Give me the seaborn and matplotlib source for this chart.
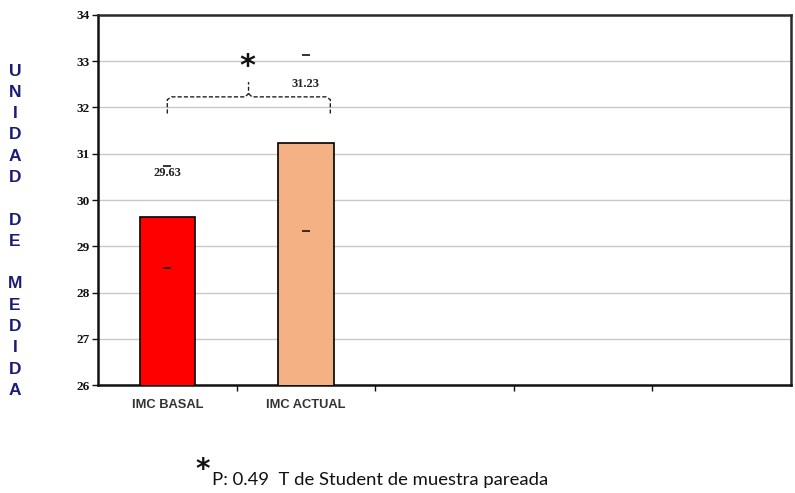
import matplotlib
matplotlib.use("Agg")
import matplotlib.pyplot as plt
import seaborn as sns
import numpy as np
import pandas as pd
from matplotlib.ticker import FixedLocator

# --- data ---
categories = ["IMC BASAL", "IMC ACTUAL", " ", "  ", "   "]
means = [29.63, 31.23]
sds = [1.10, 1.90]
bar_colors = ["#FF0000", "#F4B183"]
value_labels = ["29.63", "31.23"]
label_offsets = [0.95, 1.28]
y_ticks = [26, 27, 28, 29, 30, 31, 32, 33, 34]
axis_letters = "UNIDAD DE MEDIDA"
footnote = "P: 0.49  T de Student de muestra pareada"

sns.set_theme(style="white")
plt.rcParams["font.family"] = ["DejaVu Sans"]

fig = plt.figure(figsize=(7.95, 4.93), dpi=100)
ax = fig.add_axes([0.1233, 0.219, 0.8717, 0.7506])

df = pd.DataFrame({"grupo": categories[:2], "valor": means})
sns.barplot(data=df, x="grupo", y="valor", hue="grupo", palette=bar_colors,
            order=categories, width=0.4, edgecolor="black", linewidth=1.2,
            saturation=1, legend=False, ax=ax, zorder=3)

# error caps only (no stems)
xs = np.arange(len(means))
ax.errorbar(xs, means, yerr=sds, fmt="none", ecolor="#222222",
            elinewidth=0, capsize=3, capthick=1.3, zorder=4)

ax.set_xlim(-0.5, len(categories) - 0.5)
ax.set_ylim(y_ticks[0], y_ticks[-1])
ax.set_yticks(y_ticks)
ax.yaxis.grid(True, color="#c8c8c8", linewidth=1, zorder=0)
ax.set_axisbelow(True)
ax.set_xlabel("")
ax.set_ylabel("")

for sp in ax.spines.values():
    sp.set_visible(True)
    sp.set_color("#111111")
    sp.set_linewidth(1.8)
ax.spines["top"].set_color("#2a2a2a")
ax.spines["right"].set_color("#2a2a2a")

ax.tick_params(axis="y", which="major", direction="out", length=4, width=1,
               color="#111111", left=True, pad=2)
ax.tick_params(axis="x", which="major", length=0, pad=10)
ax.xaxis.set_minor_locator(FixedLocator(np.arange(0.5, len(categories) - 0.5, 1)))
ax.tick_params(axis="x", which="minor", direction="out", length=4, width=1,
               color="#111111", bottom=True)

for lab in ax.get_yticklabels():
    lab.set_fontfamily("Liberation Serif")
    lab.set_fontweight("bold")
    lab.set_fontsize(9.5)
    lab.set_color("#111111")
for lab in ax.get_xticklabels():
    lab.set_fontfamily("Liberation Sans")
    lab.set_fontweight("bold")
    lab.set_fontsize(9.3)
    lab.set_color("#333333")

# value labels above bars
for x, m, txt, off in zip(xs, means, value_labels, label_offsets):
    ax.text(x, m + off, txt, ha="center", va="center", fontsize=9,
            fontfamily="Liberation Serif", fontweight="bold", color="#222222",
            zorder=5)

# significance bracket
left, right, mid = 0.0, 1.176, 0.586
y0, y1, yp = 31.87, 32.23, 32.55
bx = [left, left, left + 0.03, mid - 0.025, mid, mid]
by = [y0, y1 - 0.06, y1, y1, y1 + 0.07, yp]
ax.plot(bx, by, color="#222222", lw=1, ls=(0, (3, 1.5)), zorder=5, clip_on=False)
bx2 = [mid, mid + 0.025, right - 0.03, right, right]
by2 = [y1 + 0.07, y1, y1, y1 - 0.06, y0]
ax.plot(bx2, by2, color="#222222", lw=1, ls=(0, (3, 1.5)), zorder=5, clip_on=False)
ax.text(0.58, 32.88, "*", ha="center", va="center", fontsize=22,
        fontweight="bold", color="#111111", zorder=5)

# vertical stacked axis title
top_px, step_px = 71, 21.3
for i, ch in enumerate(axis_letters):
    if ch == " ":
        continue
    fig.text(15 / 795, 1 - (top_px + i * step_px) / 493, ch, ha="center",
             va="center", fontsize=12.5, fontweight="bold",
             fontfamily="Liberation Sans", color="#1c1c78")

# footnote
fig.text(203 / 795, 1 - 470 / 493, "*", ha="center", va="center",
         fontsize=20, fontweight="bold", color="#111111")
fig.text(212 / 795, 1 - 480 / 493, footnote, ha="left", va="center",
         fontsize=13.3, fontfamily="Lato", color="#111111")

fig.savefig("out.png", dpi=100)
